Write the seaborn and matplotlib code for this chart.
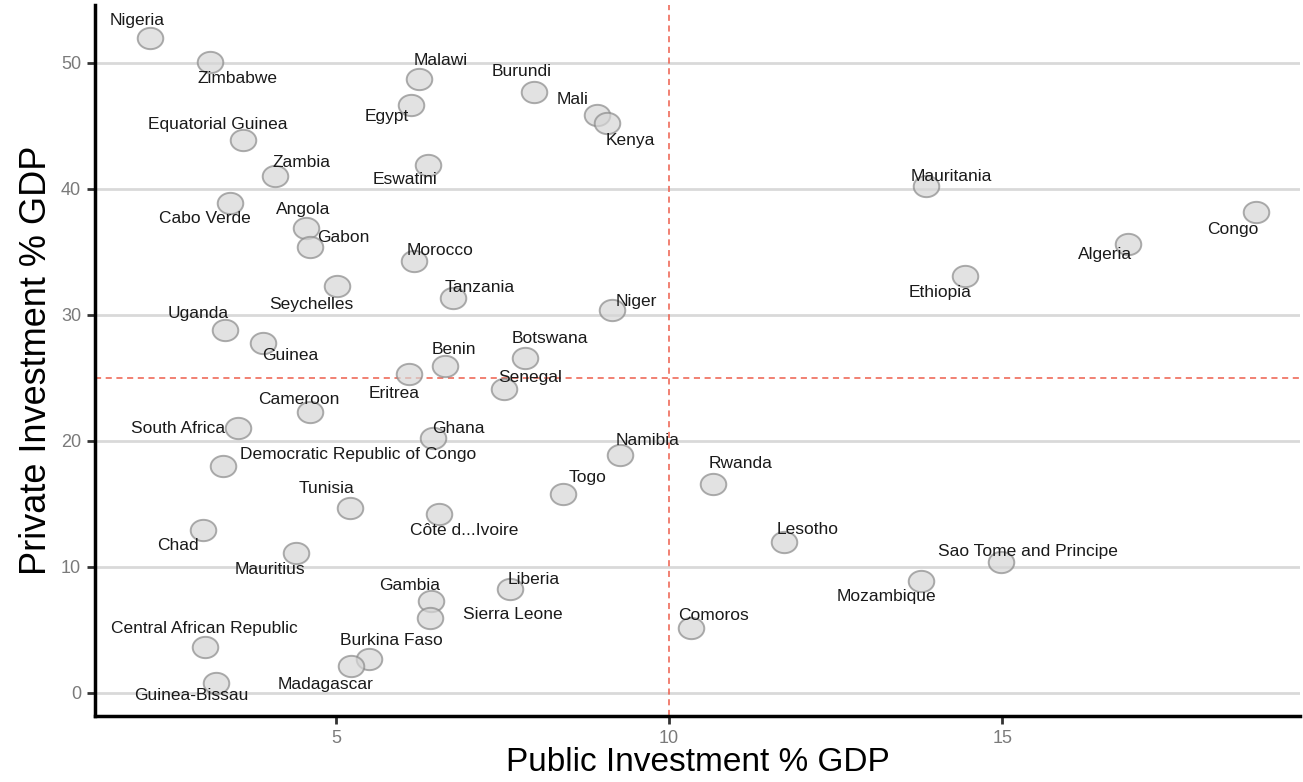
import numpy as np
import pandas as pd
import matplotlib
matplotlib.use("Agg")
import matplotlib.pyplot as plt
from matplotlib.path import Path
import seaborn as sns

countries = ["Nigeria", "Zimbabwe", "Malawi", "Egypt", "Burundi", "Mali", "Kenya",
             "Equatorial Guinea", "Zambia", "Eswatini", "Mauritania", "Cabo Verde", "Congo",
             "Angola", "Gabon", "Algeria", "Morocco", "Seychelles", "Ethiopia", "Tanzania",
             "Niger", "Uganda", "Guinea", "Botswana", "Benin", "Eritrea", "Senegal",
             "Cameroon", "South Africa", "Ghana", "Namibia", "Democratic Republic of Congo",
             "Rwanda", "Togo", "Tunisia", "Côte d...Ivoire", "Chad", "Lesotho", "Mauritius",
             "Sao Tome and Principe", "Mozambique", "Liberia", "Gambia", "Sierra Leone",
             "Comoros", "Central African Republic", "Burkina Faso", "Madagascar", "Guinea-Bissau"]
public_inv = [2.21, 3.11, 6.25, 6.13, 7.97, 8.92, 9.07,
              3.60, 4.08, 6.38, 13.86, 3.41, 18.81,
              4.55, 4.61, 16.89, 6.17, 5.02, 14.44, 6.76,
              9.14, 3.33, 3.90, 7.84, 6.64, 6.10, 7.52,
              4.61, 3.53, 6.46, 9.26, 3.30,
              10.66, 8.41, 5.21, 6.55, 3.00, 11.73, 4.40,
              14.98, 13.78, 7.61, 6.43, 6.41,
              10.32, 3.03, 5.50, 5.23, 3.20]
private_inv = [52.0, 50.1, 48.7, 46.7, 47.7, 45.9, 45.2,
               43.9, 41.0, 41.9, 40.2, 38.9, 38.2,
               36.9, 35.4, 35.6, 34.3, 32.3, 33.1, 31.3,
               30.4, 28.8, 27.8, 26.6, 25.9, 25.3, 24.1,
               22.3, 21.0, 20.2, 18.9, 18.0,
               16.6, 15.8, 14.7, 14.2, 12.9, 12.0, 11.1,
               10.4, 8.9, 8.2, 7.3, 5.9,
               5.1, 3.6, 2.7, 2.1, 0.8]

# label offsets (pixels, y up) for the repelled text labels
label_dx = [-13, 27, 21, -25, -12, -25, 23,
            -25, 27, -23, 25, -25, -23,
            -3, 33, -23, 26, -26, -25, 26,
            24, -27, 27, 25, 9, -15, 26,
            -11, -60, 25, 28, 135,
            27, 24, -24, 25, -25, 23, -26,
            27, -35, 24, -22, 83,
            23, -1, 22, -26, -25]
label_dy = [17, -17, 19, -12, 20, 15, -17,
            15, 14, -15, 10, -16, -18,
            18, 9, -10, 10, -19, -17, 11,
            8, 16, -13, 19, 17, -19, 12,
            12, 0, 10, 14, 11,
            20, 16, 19, -17, -15, 12, -17,
            10, -16, 10, 15, 4,
            13, 19, 18, -18, -13]

x_ticks = [5, 10, 15]
y_ticks = [0, 10, 20, 30, 40, 50]
x_ref = 10
y_ref = 25

df = pd.DataFrame({"country": countries, "public": public_inv, "private": private_inv})

sns.set_theme(style="white")
plt.rcParams["font.family"] = ["Liberation Sans", "DejaVu Sans"]

fig = plt.figure(figsize=(13.03, 7.82), dpi=100)
ax = fig.add_axes([0.0729, 0.0844, 0.9248, 0.9092])

# slightly wide ellipse marker
t = np.linspace(0, 2 * np.pi, 60)
ell = Path(np.column_stack([1.2 * np.cos(t), np.sin(t)]), closed=True)

ax.grid(axis="y", color="#d9d9d9", linewidth=2)
ax.grid(axis="x", visible=False)
ax.set_axisbelow(True)

sns.scatterplot(data=df, x="public", y="private", ax=ax, marker=ell, s=340,
                color="#d6d6d6", edgecolor="#8a8a8a", linewidth=1.4, alpha=0.7,
                legend=False, zorder=3)

ax.axvline(x_ref, color="#ee5e4c", linestyle=(0, (4, 3)), linewidth=1.1, zorder=2)
ax.axhline(y_ref, color="#ee5e4c", linestyle=(0, (4, 3)), linewidth=1.1, zorder=2)

for name, xv, yv, dx, dy in zip(countries, public_inv, private_inv, label_dx, label_dy):
    ax.annotate(name, (xv, yv), xytext=(dx, dy), textcoords="offset pixels",
                ha="center", va="center", fontsize=12.5, color="#1a1a1a", zorder=4)

ax.set_xlim(1.38, 19.47)
ax.set_ylim(-1.85, 54.6)
ax.set_xticks(x_ticks)
ax.set_yticks(y_ticks)
ax.tick_params(axis="both", which="major", length=6, width=2, color="#333333",
               labelsize=13, labelcolor="#7a7a7a", pad=4, direction="out",
               bottom=True, left=True)

for side in ["top", "right"]:
    ax.spines[side].set_visible(False)
for side in ["left", "bottom"]:
    ax.spines[side].set_color("black")
    ax.spines[side].set_linewidth(2.5)

ax.set_xlabel("Public Investment % GDP", fontsize=24, color="black", labelpad=0)
ax.set_ylabel("Private Investment % GDP", fontsize=26, color="black", labelpad=5)

fig.savefig("out.png", dpi=100)
